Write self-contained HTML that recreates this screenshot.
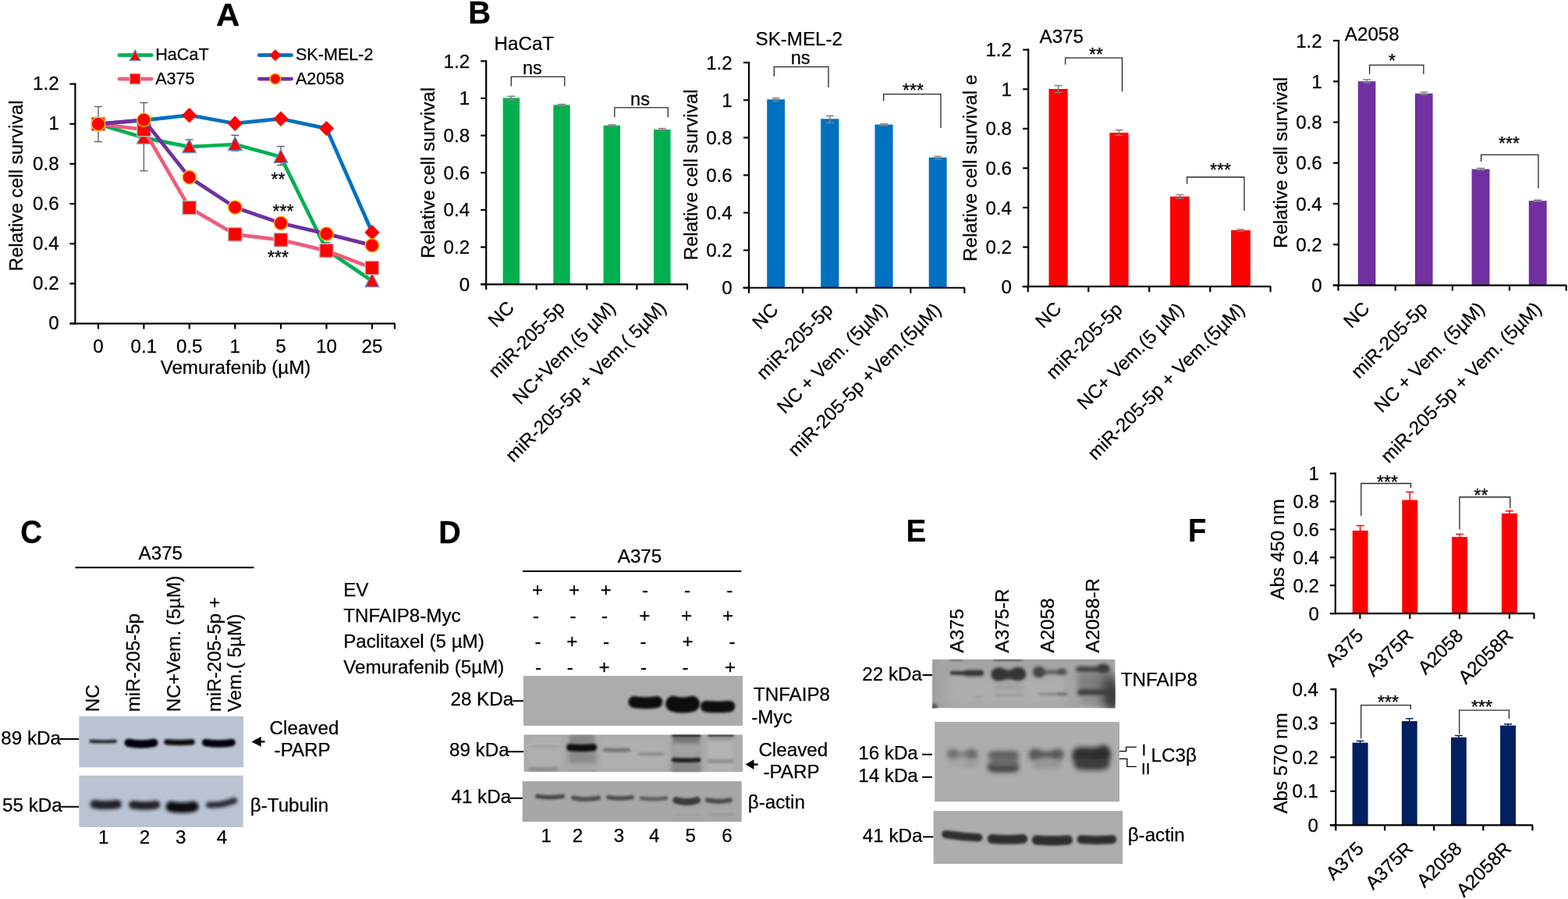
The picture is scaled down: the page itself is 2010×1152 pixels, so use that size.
<!DOCTYPE html>
<html lang="en"><head><meta charset="utf-8"><title>Figure</title>
<style>
html,body{margin:0;padding:0;background:#fff;}
body{width:2010px;height:1152px;overflow:hidden;}
svg{display:block;font-family:"Liberation Sans",Arial,sans-serif;}
svg text{stroke:#000;stroke-width:0.25px;}
</style></head><body>
<svg width="2010" height="1152" viewBox="0 0 2010 1152">
<defs>
<filter id="b1" filterUnits="userSpaceOnUse" x="0" y="830" width="2010" height="290"><feGaussianBlur stdDeviation="1.5"/></filter>
<filter id="b2" filterUnits="userSpaceOnUse" x="0" y="830" width="2010" height="290"><feGaussianBlur stdDeviation="2.3"/></filter>
<filter id="b3" filterUnits="userSpaceOnUse" x="0" y="830" width="2010" height="290"><feGaussianBlur stdDeviation="3.4"/></filter>
<filter id="b5" filterUnits="userSpaceOnUse" x="0" y="830" width="2010" height="290"><feGaussianBlur stdDeviation="7"/></filter>
</defs>
<rect width="2010" height="1152" fill="#fff"/>

<text font-size="41.28" font-weight="bold" stroke="none" transform="translate(276.95 33.20) scale(1.018 1)">A</text>
<text font-size="41.42" font-weight="bold" stroke="none" transform="translate(600.32 29.50) scale(0.966 1)">B</text>
<text font-size="42.23" font-weight="bold" stroke="none" transform="translate(26.32 696.38) scale(0.912 1)">C</text>
<text font-size="41.28" font-weight="bold" stroke="none" transform="translate(562.35 695.80) scale(0.956 1)">D</text>
<text font-size="41.42" font-weight="bold" stroke="none" transform="translate(1161.61 694.10) scale(0.934 1)">E</text>
<text font-size="41.72" font-weight="bold" stroke="none" transform="translate(1522.94 693.80) scale(0.917 1)">F</text>
<g id="panelA" transform="translate(0 0.6)">
<line x1="126.00" y1="136.00" x2="126.00" y2="181.00" stroke="#595959" stroke-width="1.3"/>
<line x1="121.00" y1="136.00" x2="131.00" y2="136.00" stroke="#595959" stroke-width="1.3"/>
<line x1="121.00" y1="181.00" x2="131.00" y2="181.00" stroke="#595959" stroke-width="1.3"/>
<line x1="184.40" y1="131.00" x2="184.40" y2="218.20" stroke="#595959" stroke-width="1.3"/>
<line x1="179.40" y1="131.00" x2="189.40" y2="131.00" stroke="#595959" stroke-width="1.3"/>
<line x1="179.40" y1="218.20" x2="189.40" y2="218.20" stroke="#595959" stroke-width="1.3"/>
<line x1="242.70" y1="178.40" x2="242.70" y2="195.00" stroke="#595959" stroke-width="1.3"/>
<line x1="237.70" y1="178.40" x2="247.70" y2="178.40" stroke="#595959" stroke-width="1.3"/>
<line x1="237.70" y1="195.00" x2="247.70" y2="195.00" stroke="#595959" stroke-width="1.3"/>
<line x1="301.30" y1="172.70" x2="301.30" y2="192.70" stroke="#595959" stroke-width="1.3"/>
<line x1="296.30" y1="172.70" x2="306.30" y2="172.70" stroke="#595959" stroke-width="1.3"/>
<line x1="296.30" y1="192.70" x2="306.30" y2="192.70" stroke="#595959" stroke-width="1.3"/>
<line x1="360.00" y1="187.00" x2="360.00" y2="211.00" stroke="#595959" stroke-width="1.3"/>
<line x1="355.00" y1="187.00" x2="365.00" y2="187.00" stroke="#595959" stroke-width="1.3"/>
<line x1="355.00" y1="211.00" x2="365.00" y2="211.00" stroke="#595959" stroke-width="1.3"/>
<line x1="418.50" y1="310.30" x2="418.50" y2="318.00" stroke="#595959" stroke-width="1.3"/>
<line x1="413.50" y1="310.30" x2="423.50" y2="310.30" stroke="#595959" stroke-width="1.3"/>
<line x1="413.50" y1="318.00" x2="423.50" y2="318.00" stroke="#595959" stroke-width="1.3"/>
<polyline points="126.0,158.3 184.4,176.0 242.7,187.5 301.3,184.4 360.0,200.5 418.5,319.6 477.0,359.4" fill="none" stroke="#00B050" stroke-width="4.7" stroke-linejoin="round" stroke-linecap="round"/>
<polygon points="126.00,148.61 134.84,165.90 117.16,165.90" fill="#FF0000" stroke="#5B9BD5" stroke-width="1.3" stroke-linejoin="miter"/>
<polygon points="184.40,166.31 193.24,183.60 175.56,183.60" fill="#FF0000" stroke="#5B9BD5" stroke-width="1.3" stroke-linejoin="miter"/>
<polygon points="242.70,177.81 251.53,195.10 233.86,195.10" fill="#FF0000" stroke="#5B9BD5" stroke-width="1.3" stroke-linejoin="miter"/>
<polygon points="301.30,174.71 310.13,192.00 292.47,192.00" fill="#FF0000" stroke="#5B9BD5" stroke-width="1.3" stroke-linejoin="miter"/>
<polygon points="360.00,190.81 368.83,208.10 351.17,208.10" fill="#FF0000" stroke="#5B9BD5" stroke-width="1.3" stroke-linejoin="miter"/>
<polygon points="418.50,309.91 427.33,327.20 409.67,327.20" fill="#FF0000" stroke="#5B9BD5" stroke-width="1.3" stroke-linejoin="miter"/>
<polygon points="477.00,349.71 485.83,367.00 468.17,367.00" fill="#FF0000" stroke="#5B9BD5" stroke-width="1.3" stroke-linejoin="miter"/>
<polyline points="126.0,158.3 184.4,153.6 242.7,147.1 301.3,157.6 360.0,151.6 418.5,164.0 477.0,297.1" fill="none" stroke="#0070C0" stroke-width="4.7" stroke-linejoin="round" stroke-linecap="round"/>
<polygon points="126.00,148.60 135.70,158.30 126.00,168.00 116.30,158.30" fill="#FF0000"/>
<polygon points="184.40,143.90 194.10,153.60 184.40,163.30 174.70,153.60" fill="#FF0000"/>
<polygon points="242.70,137.40 252.40,147.10 242.70,156.80 233.00,147.10" fill="#FF0000"/>
<polygon points="301.30,147.90 311.00,157.60 301.30,167.30 291.60,157.60" fill="#FF0000"/>
<polygon points="360.00,141.90 369.70,151.60 360.00,161.30 350.30,151.60" fill="#FF0000"/>
<polygon points="418.50,154.30 428.20,164.00 418.50,173.70 408.80,164.00" fill="#FF0000"/>
<polygon points="477.00,287.40 486.70,297.10 477.00,306.80 467.30,297.10" fill="#FF0000"/>
<polyline points="126.0,158.3 184.4,165.4 242.7,265.6 301.3,299.7 360.0,306.8 418.5,320.6 477.0,342.7" fill="none" stroke="#EE5C7C" stroke-width="4.7" stroke-linejoin="round" stroke-linecap="round"/>
<rect x="117.30" y="149.60" width="17.40" height="17.40" fill="#FF0000" stroke="#BFBFBF" stroke-width="1.3"/>
<rect x="175.70" y="156.70" width="17.40" height="17.40" fill="#FF0000" stroke="#BFBFBF" stroke-width="1.3"/>
<rect x="234.00" y="256.90" width="17.40" height="17.40" fill="#FF0000" stroke="#BFBFBF" stroke-width="1.3"/>
<rect x="292.60" y="291.00" width="17.40" height="17.40" fill="#FF0000" stroke="#BFBFBF" stroke-width="1.3"/>
<rect x="351.30" y="298.10" width="17.40" height="17.40" fill="#FF0000" stroke="#BFBFBF" stroke-width="1.3"/>
<rect x="409.80" y="311.90" width="17.40" height="17.40" fill="#FF0000" stroke="#BFBFBF" stroke-width="1.3"/>
<rect x="468.30" y="334.00" width="17.40" height="17.40" fill="#FF0000" stroke="#BFBFBF" stroke-width="1.3"/>
<polyline points="126.0,158.3 184.4,153.1 242.7,226.6 301.3,265.1 360.0,285.4 418.5,299.0 477.0,313.8" fill="none" stroke="#7030A0" stroke-width="4.7" stroke-linejoin="round" stroke-linecap="round"/>
<circle cx="126.00" cy="158.30" r="8.70" fill="#FF0000" stroke="#FFC000" stroke-width="1.4"/>
<circle cx="184.40" cy="153.10" r="8.70" fill="#FF0000" stroke="#FFC000" stroke-width="1.4"/>
<circle cx="242.70" cy="226.60" r="8.70" fill="#FF0000" stroke="#FFC000" stroke-width="1.4"/>
<circle cx="301.30" cy="265.10" r="8.70" fill="#FF0000" stroke="#FFC000" stroke-width="1.4"/>
<circle cx="360.00" cy="285.40" r="8.70" fill="#FF0000" stroke="#FFC000" stroke-width="1.4"/>
<circle cx="418.50" cy="299.00" r="8.70" fill="#FF0000" stroke="#FFC000" stroke-width="1.4"/>
<circle cx="477.00" cy="313.80" r="8.70" fill="#FF0000" stroke="#FFC000" stroke-width="1.4"/>
<line x1="96.40" y1="105.90" x2="96.40" y2="415.10" stroke="#000" stroke-width="2.2"/>
<line x1="90.00" y1="414.00" x2="506.50" y2="414.00" stroke="#000" stroke-width="2.2"/>
<line x1="89.40" y1="414.00" x2="96.40" y2="414.00" stroke="#000" stroke-width="2.2"/>
<text x="75.60" y="421.70" font-size="24.2" text-anchor="end">0</text>
<line x1="89.40" y1="362.83" x2="96.40" y2="362.83" stroke="#000" stroke-width="2.2"/>
<text x="75.60" y="370.53" font-size="24.2" text-anchor="end">0.2</text>
<line x1="89.40" y1="311.67" x2="96.40" y2="311.67" stroke="#000" stroke-width="2.2"/>
<text x="75.60" y="319.37" font-size="24.2" text-anchor="end">0.4</text>
<line x1="89.40" y1="260.50" x2="96.40" y2="260.50" stroke="#000" stroke-width="2.2"/>
<text x="75.60" y="268.20" font-size="24.2" text-anchor="end">0.6</text>
<line x1="89.40" y1="209.33" x2="96.40" y2="209.33" stroke="#000" stroke-width="2.2"/>
<text x="75.60" y="217.03" font-size="24.2" text-anchor="end">0.8</text>
<line x1="89.40" y1="158.17" x2="96.40" y2="158.17" stroke="#000" stroke-width="2.2"/>
<text x="75.60" y="165.87" font-size="24.2" text-anchor="end">1</text>
<line x1="89.40" y1="107.00" x2="96.40" y2="107.00" stroke="#000" stroke-width="2.2"/>
<text x="75.60" y="114.70" font-size="24.2" text-anchor="end">1.2</text>
<line x1="126.00" y1="414.00" x2="126.00" y2="421.00" stroke="#000" stroke-width="2.2"/>
<line x1="184.40" y1="414.00" x2="184.40" y2="421.00" stroke="#000" stroke-width="2.2"/>
<line x1="242.70" y1="414.00" x2="242.70" y2="421.00" stroke="#000" stroke-width="2.2"/>
<line x1="301.30" y1="414.00" x2="301.30" y2="421.00" stroke="#000" stroke-width="2.2"/>
<line x1="360.00" y1="414.00" x2="360.00" y2="421.00" stroke="#000" stroke-width="2.2"/>
<line x1="418.50" y1="414.00" x2="418.50" y2="421.00" stroke="#000" stroke-width="2.2"/>
<line x1="477.00" y1="414.00" x2="477.00" y2="421.00" stroke="#000" stroke-width="2.2"/>
<line x1="506.00" y1="414.00" x2="506.00" y2="421.00" stroke="#000" stroke-width="2.2"/>
<text x="126.00" y="451.00" font-size="24.2" text-anchor="middle">0</text>
<text x="184.40" y="451.00" font-size="24.2" text-anchor="middle">0.1</text>
<text x="242.70" y="451.00" font-size="24.2" text-anchor="middle">0.5</text>
<text x="301.30" y="451.00" font-size="24.2" text-anchor="middle">1</text>
<text x="360.00" y="451.00" font-size="24.2" text-anchor="middle">5</text>
<text x="418.50" y="451.00" font-size="24.2" text-anchor="middle">10</text>
<text x="477.00" y="451.00" font-size="24.2" text-anchor="middle">25</text>
<text x="302.00" y="478.40" font-size="24.2" text-anchor="middle">Vemurafenib (µM)</text>
<text font-size="24.2" text-anchor="middle" transform="translate(29.40 237.40) rotate(-90)">Relative cell survival</text>
<line x1="153.00" y1="70.10" x2="194.30" y2="70.10" stroke="#00B050" stroke-width="4.7" stroke-linecap="round"/>
<polygon points="173.20,63.44 180.09,76.93 166.31,76.93" fill="#FF0000" stroke="#5B9BD5" stroke-width="1.3" stroke-linejoin="miter"/>
<text x="199.20" y="76.80" font-size="21.6">HaCaT</text>
<line x1="332.30" y1="70.10" x2="373.60" y2="70.10" stroke="#0070C0" stroke-width="4.7" stroke-linecap="round"/>
<polygon points="352.90,62.53 360.47,70.10 352.90,77.67 345.33,70.10" fill="#FF0000"/>
<text x="378.90" y="76.80" font-size="21.6">SK-MEL-2</text>
<line x1="153.00" y1="100.50" x2="194.30" y2="100.50" stroke="#EE5C7C" stroke-width="4.7" stroke-linecap="round"/>
<rect x="166.41" y="93.71" width="13.57" height="13.57" fill="#FF0000" stroke="#BFBFBF" stroke-width="1.3"/>
<text x="199.20" y="107.30" font-size="21.6">A375</text>
<line x1="332.30" y1="100.50" x2="373.60" y2="100.50" stroke="#7030A0" stroke-width="4.7" stroke-linecap="round"/>
<circle cx="352.90" cy="100.50" r="6.79" fill="#FF0000" stroke="#FFC000" stroke-width="1.4"/>
<text x="378.90" y="107.30" font-size="21.6">A2058</text>
<text x="347.50" y="237.30" font-size="23">**</text>
<text x="349.50" y="278.50" font-size="23">***</text>
<text x="343.00" y="337.00" font-size="23">***</text>
</g>
<g id="panelB">
<rect x="644.70" y="125.50" width="21.40" height="238.80" fill="#00B050"/>
<rect x="709.30" y="134.40" width="21.40" height="229.90" fill="#00B050"/>
<rect x="773.60" y="160.70" width="21.40" height="203.60" fill="#00B050"/>
<rect x="838.00" y="165.90" width="21.60" height="198.40" fill="#00B050"/>
<line x1="655.40" y1="123.40" x2="655.40" y2="128.10" stroke="#7f7f7f" stroke-width="1.5"/>
<line x1="650.40" y1="123.40" x2="660.40" y2="123.40" stroke="#7f7f7f" stroke-width="1.5"/>
<line x1="650.40" y1="128.10" x2="660.40" y2="128.10" stroke="#7f7f7f" stroke-width="1.5"/>
<line x1="720.00" y1="133.60" x2="720.00" y2="135.70" stroke="#7f7f7f" stroke-width="1.5"/>
<line x1="715.00" y1="133.60" x2="725.00" y2="133.60" stroke="#7f7f7f" stroke-width="1.5"/>
<line x1="715.00" y1="135.70" x2="725.00" y2="135.70" stroke="#7f7f7f" stroke-width="1.5"/>
<line x1="784.30" y1="159.90" x2="784.30" y2="161.50" stroke="#7f7f7f" stroke-width="1.5"/>
<line x1="779.30" y1="159.90" x2="789.30" y2="159.90" stroke="#7f7f7f" stroke-width="1.5"/>
<line x1="779.30" y1="161.50" x2="789.30" y2="161.50" stroke="#7f7f7f" stroke-width="1.5"/>
<line x1="848.80" y1="164.60" x2="848.80" y2="167.70" stroke="#7f7f7f" stroke-width="1.5"/>
<line x1="843.80" y1="164.60" x2="853.80" y2="164.60" stroke="#7f7f7f" stroke-width="1.5"/>
<line x1="843.80" y1="167.70" x2="853.80" y2="167.70" stroke="#7f7f7f" stroke-width="1.5"/>
<line x1="623.20" y1="77.20" x2="623.20" y2="365.40" stroke="#000" stroke-width="2.2"/>
<line x1="616.20" y1="364.30" x2="881.50" y2="364.30" stroke="#000" stroke-width="2.2"/>
<line x1="616.20" y1="364.30" x2="623.20" y2="364.30" stroke="#000" stroke-width="2.2"/>
<text x="602.20" y="372.82" font-size="24.2" text-anchor="end">0</text>
<line x1="616.20" y1="316.63" x2="623.20" y2="316.63" stroke="#000" stroke-width="2.2"/>
<text x="602.20" y="325.15" font-size="24.2" text-anchor="end">0.2</text>
<line x1="616.20" y1="268.97" x2="623.20" y2="268.97" stroke="#000" stroke-width="2.2"/>
<text x="602.20" y="277.49" font-size="24.2" text-anchor="end">0.4</text>
<line x1="616.20" y1="221.30" x2="623.20" y2="221.30" stroke="#000" stroke-width="2.2"/>
<text x="602.20" y="229.82" font-size="24.2" text-anchor="end">0.6</text>
<line x1="616.20" y1="173.63" x2="623.20" y2="173.63" stroke="#000" stroke-width="2.2"/>
<text x="602.20" y="182.15" font-size="24.2" text-anchor="end">0.8</text>
<line x1="616.20" y1="125.97" x2="623.20" y2="125.97" stroke="#000" stroke-width="2.2"/>
<text x="602.20" y="134.49" font-size="24.2" text-anchor="end">1</text>
<line x1="616.20" y1="78.30" x2="623.20" y2="78.30" stroke="#000" stroke-width="2.2"/>
<text x="602.20" y="86.82" font-size="24.2" text-anchor="end">1.2</text>
<line x1="623.20" y1="364.30" x2="623.20" y2="371.30" stroke="#000" stroke-width="2.2"/>
<line x1="687.70" y1="364.30" x2="687.70" y2="371.30" stroke="#000" stroke-width="2.2"/>
<line x1="752.30" y1="364.30" x2="752.30" y2="371.30" stroke="#000" stroke-width="2.2"/>
<line x1="816.40" y1="364.30" x2="816.40" y2="371.30" stroke="#000" stroke-width="2.2"/>
<line x1="881.00" y1="364.30" x2="881.00" y2="371.30" stroke="#000" stroke-width="2.2"/>
<text font-size="24.2" text-anchor="middle" transform="translate(557.00 221.50) rotate(-90)">Relative cell survival</text>
<text font-size="24.2" text-anchor="end" transform="translate(660.50 396.00) rotate(-45)">NC</text>
<text font-size="24.2" text-anchor="end" transform="translate(725.50 396.00) rotate(-45)">miR-205-5p</text>
<text font-size="24.2" text-anchor="end" transform="translate(790.50 396.00) rotate(-45)">NC+Vem.(5 µM)</text>
<text font-size="24.2" text-anchor="end" transform="translate(855.50 396.00) rotate(-45)">miR-205-5p + Vem.( 5µM)</text>
<text x="633.50" y="64.20" font-size="24.2">HaCaT</text>
<polyline points="655.30,110.40 655.30,98.30 723.80,98.30 723.80,110.40" fill="none" stroke="#262626" stroke-width="1.3"/>
<text x="682.30" y="94.80" font-size="23.5" text-anchor="middle">ns</text>
<polyline points="787.80,150.00 787.80,137.80 856.30,137.80 856.30,150.00" fill="none" stroke="#262626" stroke-width="1.3"/>
<text x="820.50" y="134.50" font-size="23.5" text-anchor="middle">ns</text>
<rect x="983.20" y="127.30" width="22.90" height="241.45" fill="#0070C0"/>
<rect x="1052.20" y="152.30" width="23.20" height="216.45" fill="#0070C0"/>
<rect x="1121.50" y="159.60" width="23.10" height="209.15" fill="#0070C0"/>
<rect x="1190.70" y="201.80" width="22.90" height="166.95" fill="#0070C0"/>
<line x1="994.60" y1="125.60" x2="994.60" y2="130.00" stroke="#7f7f7f" stroke-width="1.5"/>
<line x1="989.60" y1="125.60" x2="999.60" y2="125.60" stroke="#7f7f7f" stroke-width="1.5"/>
<line x1="989.60" y1="130.00" x2="999.60" y2="130.00" stroke="#7f7f7f" stroke-width="1.5"/>
<line x1="1063.80" y1="148.50" x2="1063.80" y2="157.50" stroke="#7f7f7f" stroke-width="1.5"/>
<line x1="1058.80" y1="148.50" x2="1068.80" y2="148.50" stroke="#7f7f7f" stroke-width="1.5"/>
<line x1="1058.80" y1="157.50" x2="1068.80" y2="157.50" stroke="#7f7f7f" stroke-width="1.5"/>
<line x1="1133.00" y1="158.80" x2="1133.00" y2="160.90" stroke="#7f7f7f" stroke-width="1.5"/>
<line x1="1128.00" y1="158.80" x2="1138.00" y2="158.80" stroke="#7f7f7f" stroke-width="1.5"/>
<line x1="1128.00" y1="160.90" x2="1138.00" y2="160.90" stroke="#7f7f7f" stroke-width="1.5"/>
<line x1="1202.10" y1="200.40" x2="1202.10" y2="204.20" stroke="#7f7f7f" stroke-width="1.5"/>
<line x1="1197.10" y1="200.40" x2="1207.10" y2="200.40" stroke="#7f7f7f" stroke-width="1.5"/>
<line x1="1197.10" y1="204.20" x2="1207.10" y2="204.20" stroke="#7f7f7f" stroke-width="1.5"/>
<line x1="960.00" y1="79.10" x2="960.00" y2="369.85" stroke="#000" stroke-width="2.2"/>
<line x1="952.40" y1="368.75" x2="1236.80" y2="368.75" stroke="#000" stroke-width="2.2"/>
<line x1="953.00" y1="368.75" x2="960.00" y2="368.75" stroke="#000" stroke-width="2.2"/>
<text x="938.80" y="377.27" font-size="24.2" text-anchor="end">0</text>
<line x1="953.00" y1="320.66" x2="960.00" y2="320.66" stroke="#000" stroke-width="2.2"/>
<text x="938.80" y="329.18" font-size="24.2" text-anchor="end">0.2</text>
<line x1="953.00" y1="272.57" x2="960.00" y2="272.57" stroke="#000" stroke-width="2.2"/>
<text x="938.80" y="281.09" font-size="24.2" text-anchor="end">0.4</text>
<line x1="953.00" y1="224.47" x2="960.00" y2="224.47" stroke="#000" stroke-width="2.2"/>
<text x="938.80" y="233.00" font-size="24.2" text-anchor="end">0.6</text>
<line x1="953.00" y1="176.38" x2="960.00" y2="176.38" stroke="#000" stroke-width="2.2"/>
<text x="938.80" y="184.90" font-size="24.2" text-anchor="end">0.8</text>
<line x1="953.00" y1="128.29" x2="960.00" y2="128.29" stroke="#000" stroke-width="2.2"/>
<text x="938.80" y="136.81" font-size="24.2" text-anchor="end">1</text>
<line x1="953.00" y1="80.20" x2="960.00" y2="80.20" stroke="#000" stroke-width="2.2"/>
<text x="938.80" y="88.72" font-size="24.2" text-anchor="end">1.2</text>
<line x1="960.00" y1="368.75" x2="960.00" y2="375.75" stroke="#000" stroke-width="2.2"/>
<line x1="1029.00" y1="368.75" x2="1029.00" y2="375.75" stroke="#000" stroke-width="2.2"/>
<line x1="1098.00" y1="368.75" x2="1098.00" y2="375.75" stroke="#000" stroke-width="2.2"/>
<line x1="1167.30" y1="368.75" x2="1167.30" y2="375.75" stroke="#000" stroke-width="2.2"/>
<line x1="1236.30" y1="368.75" x2="1236.30" y2="375.75" stroke="#000" stroke-width="2.2"/>
<text font-size="24.2" text-anchor="middle" transform="translate(893.60 224.00) rotate(-90)">Relative cell survival</text>
<text font-size="24.2" text-anchor="end" transform="translate(999.00 398.50) rotate(-45)">NC</text>
<text font-size="24.2" text-anchor="end" transform="translate(1069.00 398.50) rotate(-45)">miR-205-5p</text>
<text font-size="24.2" text-anchor="end" transform="translate(1139.00 398.30) rotate(-45)">NC + Vem. (5µM)</text>
<text font-size="24.2" text-anchor="end" transform="translate(1208.00 398.30) rotate(-45)">miR-205-5p +Vem.(5µM)</text>
<text x="968.50" y="58.00" font-size="24.2">SK-MEL-2</text>
<polyline points="992.30,98.00 992.30,85.70 1062.00,85.70 1062.00,112.00" fill="none" stroke="#262626" stroke-width="1.3"/>
<text x="1026.20" y="82.30" font-size="23.5" text-anchor="middle">ns</text>
<polyline points="1132.70,129.50 1132.70,120.60 1206.00,120.60 1206.00,164.00" fill="none" stroke="#262626" stroke-width="1.3"/>
<text x="1157.00" y="123.60" font-size="23">***</text>
<rect x="1344.50" y="114.00" width="24.25" height="253.20" fill="#FF0000"/>
<rect x="1422.40" y="170.00" width="24.20" height="197.20" fill="#FF0000"/>
<rect x="1500.00" y="251.80" width="24.70" height="115.40" fill="#FF0000"/>
<rect x="1578.10" y="295.00" width="24.80" height="72.20" fill="#FF0000"/>
<line x1="1356.60" y1="109.60" x2="1356.60" y2="118.50" stroke="#7f7f7f" stroke-width="1.5"/>
<line x1="1351.60" y1="109.60" x2="1361.60" y2="109.60" stroke="#7f7f7f" stroke-width="1.5"/>
<line x1="1351.60" y1="118.50" x2="1361.60" y2="118.50" stroke="#7f7f7f" stroke-width="1.5"/>
<line x1="1434.50" y1="166.70" x2="1434.50" y2="173.40" stroke="#7f7f7f" stroke-width="1.5"/>
<line x1="1429.50" y1="166.70" x2="1439.50" y2="166.70" stroke="#7f7f7f" stroke-width="1.5"/>
<line x1="1429.50" y1="173.40" x2="1439.50" y2="173.40" stroke="#7f7f7f" stroke-width="1.5"/>
<line x1="1512.30" y1="249.50" x2="1512.30" y2="254.30" stroke="#7f7f7f" stroke-width="1.5"/>
<line x1="1507.30" y1="249.50" x2="1517.30" y2="249.50" stroke="#7f7f7f" stroke-width="1.5"/>
<line x1="1507.30" y1="254.30" x2="1517.30" y2="254.30" stroke="#7f7f7f" stroke-width="1.5"/>
<line x1="1590.50" y1="294.00" x2="1590.50" y2="296.40" stroke="#7f7f7f" stroke-width="1.5"/>
<line x1="1585.50" y1="294.00" x2="1595.50" y2="294.00" stroke="#7f7f7f" stroke-width="1.5"/>
<line x1="1585.50" y1="296.40" x2="1595.50" y2="296.40" stroke="#7f7f7f" stroke-width="1.5"/>
<line x1="1318.20" y1="62.60" x2="1318.20" y2="368.30" stroke="#000" stroke-width="2.2"/>
<line x1="1310.70" y1="367.20" x2="1629.20" y2="367.20" stroke="#000" stroke-width="2.2"/>
<line x1="1311.20" y1="367.20" x2="1318.20" y2="367.20" stroke="#000" stroke-width="2.2"/>
<text x="1297.00" y="375.72" font-size="24.2" text-anchor="end">0</text>
<line x1="1311.20" y1="316.62" x2="1318.20" y2="316.62" stroke="#000" stroke-width="2.2"/>
<text x="1297.00" y="325.14" font-size="24.2" text-anchor="end">0.2</text>
<line x1="1311.20" y1="266.03" x2="1318.20" y2="266.03" stroke="#000" stroke-width="2.2"/>
<text x="1297.00" y="274.55" font-size="24.2" text-anchor="end">0.4</text>
<line x1="1311.20" y1="215.45" x2="1318.20" y2="215.45" stroke="#000" stroke-width="2.2"/>
<text x="1297.00" y="223.97" font-size="24.2" text-anchor="end">0.6</text>
<line x1="1311.20" y1="164.87" x2="1318.20" y2="164.87" stroke="#000" stroke-width="2.2"/>
<text x="1297.00" y="173.39" font-size="24.2" text-anchor="end">0.8</text>
<line x1="1311.20" y1="114.28" x2="1318.20" y2="114.28" stroke="#000" stroke-width="2.2"/>
<text x="1297.00" y="122.80" font-size="24.2" text-anchor="end">1</text>
<line x1="1311.20" y1="63.70" x2="1318.20" y2="63.70" stroke="#000" stroke-width="2.2"/>
<text x="1297.00" y="72.22" font-size="24.2" text-anchor="end">1.2</text>
<line x1="1317.70" y1="367.20" x2="1317.70" y2="374.20" stroke="#000" stroke-width="2.2"/>
<line x1="1395.30" y1="367.20" x2="1395.30" y2="374.20" stroke="#000" stroke-width="2.2"/>
<line x1="1473.20" y1="367.20" x2="1473.20" y2="374.20" stroke="#000" stroke-width="2.2"/>
<line x1="1551.30" y1="367.20" x2="1551.30" y2="374.20" stroke="#000" stroke-width="2.2"/>
<line x1="1628.60" y1="367.20" x2="1628.60" y2="374.20" stroke="#000" stroke-width="2.2"/>
<text font-size="24.2" text-anchor="middle" transform="translate(1251.60 215.30) rotate(-90)">Relative cell survival e</text>
<text font-size="24.2" text-anchor="end" transform="translate(1362.00 397.00) rotate(-45)">NC</text>
<text font-size="24.2" text-anchor="end" transform="translate(1440.30 398.00) rotate(-45)">miR-205-5p</text>
<text font-size="24.2" text-anchor="end" transform="translate(1519.00 398.00) rotate(-45)">NC+ Vem.(5 µM)</text>
<text font-size="24.2" text-anchor="end" transform="translate(1597.00 398.00) rotate(-45)">miR-205-5p + Vem.(5µM)</text>
<text x="1332.50" y="55.20" font-size="24.2">A375</text>
<polyline points="1365.60,82.80 1365.60,74.20 1438.50,74.20 1438.50,117.20" fill="none" stroke="#262626" stroke-width="1.3"/>
<text x="1396.00" y="77.50" font-size="23">**</text>
<polyline points="1521.60,235.70 1521.60,227.00 1595.00,227.00 1595.00,270.00" fill="none" stroke="#262626" stroke-width="1.3"/>
<text x="1551.00" y="226.30" font-size="23">***</text>
<rect x="1740.80" y="104.20" width="22.60" height="261.40" fill="#7030A0"/>
<rect x="1814.00" y="119.80" width="22.60" height="245.80" fill="#7030A0"/>
<rect x="1886.60" y="216.70" width="22.90" height="148.90" fill="#7030A0"/>
<rect x="1959.80" y="257.30" width="22.90" height="108.30" fill="#7030A0"/>
<line x1="1752.10" y1="102.00" x2="1752.10" y2="106.30" stroke="#7f7f7f" stroke-width="1.5"/>
<line x1="1747.10" y1="102.00" x2="1757.10" y2="102.00" stroke="#7f7f7f" stroke-width="1.5"/>
<line x1="1747.10" y1="106.30" x2="1757.10" y2="106.30" stroke="#7f7f7f" stroke-width="1.5"/>
<line x1="1825.30" y1="118.00" x2="1825.30" y2="121.40" stroke="#7f7f7f" stroke-width="1.5"/>
<line x1="1820.30" y1="118.00" x2="1830.30" y2="118.00" stroke="#7f7f7f" stroke-width="1.5"/>
<line x1="1820.30" y1="121.40" x2="1830.30" y2="121.40" stroke="#7f7f7f" stroke-width="1.5"/>
<line x1="1898.00" y1="215.60" x2="1898.00" y2="217.70" stroke="#7f7f7f" stroke-width="1.5"/>
<line x1="1893.00" y1="215.60" x2="1903.00" y2="215.60" stroke="#7f7f7f" stroke-width="1.5"/>
<line x1="1893.00" y1="217.70" x2="1903.00" y2="217.70" stroke="#7f7f7f" stroke-width="1.5"/>
<line x1="1971.20" y1="256.30" x2="1971.20" y2="258.30" stroke="#7f7f7f" stroke-width="1.5"/>
<line x1="1966.20" y1="256.30" x2="1976.20" y2="256.30" stroke="#7f7f7f" stroke-width="1.5"/>
<line x1="1966.20" y1="258.30" x2="1976.20" y2="258.30" stroke="#7f7f7f" stroke-width="1.5"/>
<line x1="1716.00" y1="51.00" x2="1716.00" y2="366.70" stroke="#000" stroke-width="2.2"/>
<line x1="1708.75" y1="365.60" x2="2008.20" y2="365.60" stroke="#000" stroke-width="2.2"/>
<line x1="1709.00" y1="365.60" x2="1716.00" y2="365.60" stroke="#000" stroke-width="2.2"/>
<text x="1694.80" y="374.12" font-size="24.2" text-anchor="end">0</text>
<line x1="1709.00" y1="313.35" x2="1716.00" y2="313.35" stroke="#000" stroke-width="2.2"/>
<text x="1694.80" y="321.87" font-size="24.2" text-anchor="end">0.2</text>
<line x1="1709.00" y1="261.10" x2="1716.00" y2="261.10" stroke="#000" stroke-width="2.2"/>
<text x="1694.80" y="269.62" font-size="24.2" text-anchor="end">0.4</text>
<line x1="1709.00" y1="208.85" x2="1716.00" y2="208.85" stroke="#000" stroke-width="2.2"/>
<text x="1694.80" y="217.37" font-size="24.2" text-anchor="end">0.6</text>
<line x1="1709.00" y1="156.60" x2="1716.00" y2="156.60" stroke="#000" stroke-width="2.2"/>
<text x="1694.80" y="165.12" font-size="24.2" text-anchor="end">0.8</text>
<line x1="1709.00" y1="104.35" x2="1716.00" y2="104.35" stroke="#000" stroke-width="2.2"/>
<text x="1694.80" y="112.87" font-size="24.2" text-anchor="end">1</text>
<line x1="1709.00" y1="52.10" x2="1716.00" y2="52.10" stroke="#000" stroke-width="2.2"/>
<text x="1694.80" y="60.62" font-size="24.2" text-anchor="end">1.2</text>
<line x1="1715.50" y1="365.60" x2="1715.50" y2="372.60" stroke="#000" stroke-width="2.2"/>
<line x1="1788.70" y1="365.60" x2="1788.70" y2="372.60" stroke="#000" stroke-width="2.2"/>
<line x1="1861.90" y1="365.60" x2="1861.90" y2="372.60" stroke="#000" stroke-width="2.2"/>
<line x1="1935.00" y1="365.60" x2="1935.00" y2="372.60" stroke="#000" stroke-width="2.2"/>
<line x1="2007.70" y1="365.60" x2="2007.70" y2="372.60" stroke="#000" stroke-width="2.2"/>
<text font-size="24.2" text-anchor="middle" transform="translate(1650.00 208.50) rotate(-90)">Relative cell survival</text>
<text font-size="24.2" text-anchor="end" transform="translate(1757.00 397.00) rotate(-45)">NC</text>
<text font-size="24.2" text-anchor="end" transform="translate(1831.30 397.00) rotate(-45)">miR-205-5p</text>
<text font-size="24.2" text-anchor="end" transform="translate(1904.50 397.00) rotate(-45)">NC + Vem. (5µM)</text>
<text font-size="24.2" text-anchor="end" transform="translate(1977.50 397.00) rotate(-45)">miR-205-5p + Vem. (5µM)</text>
<text x="1723.80" y="52.00" font-size="24.2">A2058</text>
<polyline points="1755.60,95.00 1755.60,83.30 1824.90,83.30 1824.90,95.00" fill="none" stroke="#262626" stroke-width="1.3"/>
<text x="1780.00" y="85.50" font-size="23">*</text>
<polyline points="1898.60,207.00 1898.60,198.40 1972.00,198.40 1972.00,241.40" fill="none" stroke="#262626" stroke-width="1.3"/>
<text x="1921.00" y="191.70" font-size="23">***</text>
</g>
<g id="panelF">
<rect x="1733.70" y="679.90" width="19.90" height="106.20" fill="#FF0000"/>
<rect x="1797.30" y="640.75" width="20.00" height="145.35" fill="#FF0000"/>
<rect x="1861.20" y="688.10" width="20.00" height="98.00" fill="#FF0000"/>
<rect x="1924.90" y="657.80" width="19.90" height="128.30" fill="#FF0000"/>
<line x1="1743.60" y1="673.60" x2="1743.60" y2="680.00" stroke="#FF0000" stroke-width="1.5"/>
<line x1="1738.60" y1="673.60" x2="1748.60" y2="673.60" stroke="#FF0000" stroke-width="1.5"/>
<line x1="1807.30" y1="630.50" x2="1807.30" y2="641.00" stroke="#FF0000" stroke-width="1.5"/>
<line x1="1802.30" y1="630.50" x2="1812.30" y2="630.50" stroke="#FF0000" stroke-width="1.5"/>
<line x1="1871.20" y1="684.50" x2="1871.20" y2="688.50" stroke="#FF0000" stroke-width="1.5"/>
<line x1="1866.20" y1="684.50" x2="1876.20" y2="684.50" stroke="#FF0000" stroke-width="1.5"/>
<line x1="1934.90" y1="654.80" x2="1934.90" y2="658.00" stroke="#FF0000" stroke-width="1.5"/>
<line x1="1929.90" y1="654.80" x2="1939.90" y2="654.80" stroke="#FF0000" stroke-width="1.5"/>
<line x1="1711.80" y1="605.60" x2="1711.80" y2="787.20" stroke="#000" stroke-width="2.2"/>
<line x1="1705.00" y1="786.10" x2="1967.00" y2="786.10" stroke="#000" stroke-width="2.2"/>
<line x1="1704.80" y1="786.10" x2="1711.80" y2="786.10" stroke="#000" stroke-width="2.2"/>
<text x="1691.00" y="794.62" font-size="24.2" text-anchor="end">0</text>
<line x1="1704.80" y1="750.22" x2="1711.80" y2="750.22" stroke="#000" stroke-width="2.2"/>
<text x="1691.00" y="758.74" font-size="24.2" text-anchor="end">0.2</text>
<line x1="1704.80" y1="714.34" x2="1711.80" y2="714.34" stroke="#000" stroke-width="2.2"/>
<text x="1691.00" y="722.86" font-size="24.2" text-anchor="end">0.4</text>
<line x1="1704.80" y1="678.46" x2="1711.80" y2="678.46" stroke="#000" stroke-width="2.2"/>
<text x="1691.00" y="686.98" font-size="24.2" text-anchor="end">0.6</text>
<line x1="1704.80" y1="642.58" x2="1711.80" y2="642.58" stroke="#000" stroke-width="2.2"/>
<text x="1691.00" y="651.10" font-size="24.2" text-anchor="end">0.8</text>
<line x1="1704.80" y1="606.70" x2="1711.80" y2="606.70" stroke="#000" stroke-width="2.2"/>
<text x="1691.00" y="615.22" font-size="24.2" text-anchor="end">1</text>
<line x1="1743.40" y1="786.10" x2="1743.40" y2="793.10" stroke="#000" stroke-width="2.2"/>
<line x1="1807.30" y1="786.10" x2="1807.30" y2="793.10" stroke="#000" stroke-width="2.2"/>
<line x1="1871.00" y1="786.10" x2="1871.00" y2="793.10" stroke="#000" stroke-width="2.2"/>
<line x1="1934.90" y1="786.10" x2="1934.90" y2="793.10" stroke="#000" stroke-width="2.2"/>
<line x1="1966.50" y1="786.10" x2="1966.50" y2="793.10" stroke="#000" stroke-width="2.2"/>
<text font-size="24.2" text-anchor="middle" transform="translate(1646.00 704.00) rotate(-90)">Abs 450 nm</text>
<text font-size="24.2" text-anchor="end" transform="translate(1749.00 816.00) rotate(-45)">A375</text>
<text font-size="24.2" text-anchor="end" transform="translate(1813.00 816.00) rotate(-45)">A375R</text>
<text font-size="24.2" text-anchor="end" transform="translate(1877.00 816.00) rotate(-45)">A2058</text>
<text font-size="24.2" text-anchor="end" transform="translate(1941.00 816.00) rotate(-45)">A2058R</text>
<polyline points="1744.80,661.00 1744.80,619.50 1808.50,619.50 1808.50,624.90" fill="none" stroke="#262626" stroke-width="1.3"/>
<text x="1765.00" y="625.80" font-size="23">***</text>
<polyline points="1871.00,678.40 1871.00,637.00 1935.80,637.00 1935.80,651.30" fill="none" stroke="#262626" stroke-width="1.3"/>
<text x="1889.50" y="643.20" font-size="23">**</text>
<rect x="1733.60" y="951.70" width="20.00" height="105.70" fill="#002060"/>
<rect x="1796.90" y="924.10" width="19.80" height="133.30" fill="#002060"/>
<rect x="1860.00" y="944.90" width="19.80" height="112.50" fill="#002060"/>
<rect x="1923.10" y="929.70" width="20.00" height="127.70" fill="#002060"/>
<line x1="1743.60" y1="949.50" x2="1743.60" y2="952.00" stroke="#002060" stroke-width="1.5"/>
<line x1="1738.60" y1="949.50" x2="1748.60" y2="949.50" stroke="#002060" stroke-width="1.5"/>
<line x1="1806.80" y1="920.80" x2="1806.80" y2="925.00" stroke="#002060" stroke-width="1.5"/>
<line x1="1801.80" y1="920.80" x2="1811.80" y2="920.80" stroke="#002060" stroke-width="1.5"/>
<line x1="1869.90" y1="942.60" x2="1869.90" y2="945.00" stroke="#002060" stroke-width="1.5"/>
<line x1="1864.90" y1="942.60" x2="1874.90" y2="942.60" stroke="#002060" stroke-width="1.5"/>
<line x1="1933.10" y1="927.90" x2="1933.10" y2="930.00" stroke="#002060" stroke-width="1.5"/>
<line x1="1928.10" y1="927.90" x2="1938.10" y2="927.90" stroke="#002060" stroke-width="1.5"/>
<line x1="1712.30" y1="882.20" x2="1712.30" y2="1058.50" stroke="#000" stroke-width="2.2"/>
<line x1="1704.70" y1="1057.40" x2="1965.00" y2="1057.40" stroke="#000" stroke-width="2.2"/>
<line x1="1705.30" y1="1057.40" x2="1712.30" y2="1057.40" stroke="#000" stroke-width="2.2"/>
<text x="1690.00" y="1065.92" font-size="24.2" text-anchor="end">0</text>
<line x1="1705.30" y1="1013.88" x2="1712.30" y2="1013.88" stroke="#000" stroke-width="2.2"/>
<text x="1690.00" y="1022.39" font-size="24.2" text-anchor="end">0.1</text>
<line x1="1705.30" y1="970.35" x2="1712.30" y2="970.35" stroke="#000" stroke-width="2.2"/>
<text x="1690.00" y="978.87" font-size="24.2" text-anchor="end">0.2</text>
<line x1="1705.30" y1="926.83" x2="1712.30" y2="926.83" stroke="#000" stroke-width="2.2"/>
<text x="1690.00" y="935.35" font-size="24.2" text-anchor="end">0.3</text>
<line x1="1705.30" y1="883.30" x2="1712.30" y2="883.30" stroke="#000" stroke-width="2.2"/>
<text x="1690.00" y="891.82" font-size="24.2" text-anchor="end">0.4</text>
<line x1="1712.30" y1="1057.40" x2="1712.30" y2="1064.40" stroke="#000" stroke-width="2.2"/>
<line x1="1775.10" y1="1057.40" x2="1775.10" y2="1064.40" stroke="#000" stroke-width="2.2"/>
<line x1="1838.20" y1="1057.40" x2="1838.20" y2="1064.40" stroke="#000" stroke-width="2.2"/>
<line x1="1901.30" y1="1057.40" x2="1901.30" y2="1064.40" stroke="#000" stroke-width="2.2"/>
<line x1="1964.40" y1="1057.40" x2="1964.40" y2="1064.40" stroke="#000" stroke-width="2.2"/>
<text font-size="24.2" text-anchor="middle" transform="translate(1650.00 978.00) rotate(-90)">Abs 570 nm</text>
<text font-size="24.2" text-anchor="end" transform="translate(1749.50 1089.00) rotate(-45)">A375</text>
<text font-size="24.2" text-anchor="end" transform="translate(1812.50 1089.00) rotate(-45)">A375R</text>
<text font-size="24.2" text-anchor="end" transform="translate(1875.50 1089.00) rotate(-45)">A2058</text>
<text font-size="24.2" text-anchor="end" transform="translate(1938.50 1089.00) rotate(-45)">A2058R</text>
<polyline points="1744.70,946.20 1744.70,903.60 1808.30,903.60 1808.30,908.90" fill="none" stroke="#262626" stroke-width="1.3"/>
<text x="1766.00" y="908.30" font-size="23">***</text>
<polyline points="1870.70,940.60 1870.70,910.20 1934.50,910.20 1934.50,921.30" fill="none" stroke="#262626" stroke-width="1.3"/>
<text x="1886.00" y="914.30" font-size="23">***</text>
</g>
<g id="panelC">
<text x="205.80" y="717.00" font-size="24.2" text-anchor="middle">A375</text>
<line x1="96.40" y1="727.20" x2="325.50" y2="727.20" stroke="#000" stroke-width="2"/>
<text font-size="24.2" transform="translate(127.10 912.30) rotate(-90)">NC</text>
<text font-size="24.2" transform="translate(179.20 912.30) rotate(-90)">miR-205-5p</text>
<text font-size="24.2" transform="translate(231.30 912.30) rotate(-90)">NC+Vem. (5µM)</text>
<text font-size="24.2" transform="translate(283.40 912.30) rotate(-90)">miR-205-5p +</text>
<text font-size="24.2" transform="translate(309.40 912.30) rotate(-90)">Vem.( 5µM)</text>
<text x="1.30" y="953.60" font-size="24.2">89 kDa</text>
<line x1="76.50" y1="947.00" x2="101.50" y2="947.00" stroke="#000" stroke-width="2"/>
<text x="3.10" y="1040.00" font-size="24.2">55 kDa</text>
<line x1="78.20" y1="1033.80" x2="101.50" y2="1033.80" stroke="#000" stroke-width="2"/>
<text x="345.60" y="940.50" font-size="24.2">Cleaved</text>
<text x="351.60" y="969.20" font-size="24.2">-PARP</text>
<polygon points="322.4,950.4 334.6,944.1 334.6,956.7" fill="#000"/>
<line x1="333.60" y1="950.40" x2="339.50" y2="950.40" stroke="#000" stroke-width="2.4"/>
<text x="320.80" y="1040.00" font-size="24.2">β-Tubulin</text>
<text x="132.80" y="1080.60" font-size="24.2" text-anchor="middle">1</text>
<text x="185.40" y="1080.60" font-size="24.2" text-anchor="middle">2</text>
<text x="231.80" y="1080.60" font-size="24.2" text-anchor="middle">3</text>
<text x="284.40" y="1080.60" font-size="24.2" text-anchor="middle">4</text>
<clipPath id="c1"><rect x="101.20" y="917.60" width="211.10" height="65.90"/></clipPath>
<g clip-path="url(#c1)">
<rect x="101.20" y="917.60" width="211.10" height="65.90" fill="#bbc3d3"/>
<path d="M116.7,949.8 Q132.2,951.0 147.8,949.8" fill="none" stroke="#15161c" stroke-width="4.4" stroke-linecap="round" filter="url(#b1)" opacity="0.92"/>
<path d="M164.8,951.8 Q181.0,955.0 197.2,951.8" fill="none" stroke="#06060a" stroke-width="10.5" stroke-linecap="round" filter="url(#b1)"/>
<path d="M213.9,950.8 Q230.1,952.4 246.2,950.8" fill="none" stroke="#0a0a10" stroke-width="7.2" stroke-linecap="round" filter="url(#b1)"/>
<path d="M263.6,951.6 Q280.3,954.6 297.1,951.6" fill="none" stroke="#06060a" stroke-width="9.5" stroke-linecap="round" filter="url(#b1)"/>
</g>
<clipPath id="c2"><rect x="101.20" y="993.50" width="210.60" height="66.60"/></clipPath>
<g clip-path="url(#c2)">
<rect x="101.20" y="993.50" width="210.60" height="66.60" fill="#bbc3d3"/>
<path d="M121.0,1030.5 Q135.8,1032.9 150.5,1030.5" fill="none" stroke="#202229" stroke-width="11" stroke-linecap="round" filter="url(#b2)"/>
<path d="M170.2,1031.2 Q185.2,1033.6 200.2,1031.2" fill="none" stroke="#22242c" stroke-width="10.5" stroke-linecap="round" filter="url(#b2)"/>
<path d="M219.2,1033.6 Q233.5,1036.6 247.8,1033.6" fill="none" stroke="#101116" stroke-width="13.5" stroke-linecap="round" filter="url(#b2)"/>
<path d="M268.0,1031.5 Q284.0,1032.3 300.0,1026.0" fill="none" stroke="#2a2c36" stroke-width="8" stroke-linecap="round" filter="url(#b2)"/>
</g>
</g>
<g id="panelD">
<text x="820.00" y="721.30" font-size="24.2" text-anchor="middle">A375</text>
<line x1="670.00" y1="732.00" x2="950.30" y2="732.00" stroke="#000" stroke-width="2"/>
<text x="440.20" y="764.00" font-size="24.2">EV</text>
<text x="440.20" y="796.90" font-size="24.2">TNFAIP8-Myc</text>
<text x="440.20" y="829.70" font-size="24.2">Paclitaxel (5 µM)</text>
<text x="440.20" y="862.80" font-size="24.2">Vemurafenib (5µM)</text>
<text x="689.00" y="764.20" font-size="24.2" text-anchor="middle">+</text>
<text x="736.00" y="764.20" font-size="24.2" text-anchor="middle">+</text>
<text x="776.80" y="764.20" font-size="24.2" text-anchor="middle">+</text>
<text x="827.00" y="763.70" font-size="24.2" text-anchor="middle">-</text>
<text x="881.00" y="763.70" font-size="24.2" text-anchor="middle">-</text>
<text x="935.20" y="763.70" font-size="24.2" text-anchor="middle">-</text>
<text x="687.00" y="796.50" font-size="24.2" text-anchor="middle">-</text>
<text x="734.60" y="796.50" font-size="24.2" text-anchor="middle">-</text>
<text x="775.00" y="796.50" font-size="24.2" text-anchor="middle">-</text>
<text x="826.30" y="797.00" font-size="24.2" text-anchor="middle">+</text>
<text x="880.00" y="797.00" font-size="24.2" text-anchor="middle">+</text>
<text x="933.10" y="797.00" font-size="24.2" text-anchor="middle">+</text>
<text x="689.60" y="829.80" font-size="24.2" text-anchor="middle">-</text>
<text x="733.30" y="830.30" font-size="24.2" text-anchor="middle">+</text>
<text x="777.00" y="829.80" font-size="24.2" text-anchor="middle">-</text>
<text x="824.50" y="829.80" font-size="24.2" text-anchor="middle">-</text>
<text x="881.50" y="830.30" font-size="24.2" text-anchor="middle">+</text>
<text x="938.50" y="829.80" font-size="24.2" text-anchor="middle">-</text>
<text x="690.00" y="862.60" font-size="24.2" text-anchor="middle">-</text>
<text x="730.70" y="862.60" font-size="24.2" text-anchor="middle">-</text>
<text x="774.50" y="863.10" font-size="24.2" text-anchor="middle">+</text>
<text x="825.00" y="862.60" font-size="24.2" text-anchor="middle">-</text>
<text x="878.60" y="862.60" font-size="24.2" text-anchor="middle">-</text>
<text x="936.00" y="863.10" font-size="24.2" text-anchor="middle">+</text>
<text x="577.50" y="904.00" font-size="24.2">28 KDa</text>
<line x1="657.00" y1="898.20" x2="671.50" y2="898.20" stroke="#000" stroke-width="2"/>
<text x="576.00" y="969.10" font-size="24.2">89 kDa</text>
<line x1="650.00" y1="963.20" x2="671.50" y2="963.20" stroke="#000" stroke-width="2"/>
<text x="578.50" y="1029.00" font-size="24.2">41 kDa</text>
<line x1="654.00" y1="1022.80" x2="670.00" y2="1022.80" stroke="#000" stroke-width="2"/>
<text x="965.90" y="898.40" font-size="24.2">TNFAIP8</text>
<text x="963.30" y="927.00" font-size="24.2">-Myc</text>
<text x="972.40" y="968.70" font-size="24.2">Cleaved</text>
<text x="978.40" y="997.30" font-size="24.2">-PARP</text>
<polygon points="955.5,979.6 966.5,973.3 966.5,985.9" fill="#000"/>
<line x1="965.50" y1="979.60" x2="971.60" y2="979.60" stroke="#000" stroke-width="2.4"/>
<text x="958.80" y="1035.60" font-size="24.2">β-actin</text>
<text x="700.30" y="1078.60" font-size="24.2" text-anchor="middle">1</text>
<text x="740.60" y="1078.60" font-size="24.2" text-anchor="middle">2</text>
<text x="793.50" y="1078.60" font-size="24.2" text-anchor="middle">3</text>
<text x="838.80" y="1078.60" font-size="24.2" text-anchor="middle">4</text>
<text x="885.20" y="1078.60" font-size="24.2" text-anchor="middle">5</text>
<text x="932.00" y="1078.60" font-size="24.2" text-anchor="middle">6</text>
<clipPath id="c3"><rect x="671.00" y="866.10" width="281.30" height="63.80"/></clipPath>
<g clip-path="url(#c3)">
<rect x="671.00" y="866.10" width="281.30" height="63.80" fill="#acacac"/>
<path d="M813.0,899.6 Q827.4,902.0 841.8,899.6" fill="none" stroke="#0b0b0b" stroke-width="15" stroke-linecap="round" filter="url(#b1)"/>
<path d="M863.0,901.8 Q875.1,905.4 887.2,901.8" fill="none" stroke="#0b0b0b" stroke-width="20" stroke-linecap="round" filter="url(#b1)"/>
<path d="M905.2,905.2 Q920.1,906.8 935.0,905.2" fill="none" stroke="#0b0b0b" stroke-width="14.5" stroke-linecap="round" filter="url(#b1)"/>
</g>
<clipPath id="c4"><rect x="671.30" y="941.30" width="281.00" height="48.00"/></clipPath>
<g clip-path="url(#c4)">
<rect x="671.30" y="941.30" width="281.00" height="48.00" fill="#ababab"/>
<rect x="676.0" y="946.0" width="44.0" height="36.0" fill="#b3b3b3" filter="url(#b3)" opacity="0.6"/>
<rect x="770.0" y="946.0" width="84.0" height="40.0" fill="#b3b3b3" filter="url(#b3)" opacity="0.6"/>
<path d="M680.5,953.2 Q698.0,953.2 715.5,953.2" fill="none" stroke="#bdbdbd" stroke-width="3" stroke-linecap="round" filter="url(#b1)" opacity="0.7"/>
<path d="M680.8,956.2 Q698.0,956.2 715.2,956.2" fill="none" stroke="#9a9a9a" stroke-width="3.5" stroke-linecap="round" filter="url(#b1)" opacity="0.7"/>
<path d="M680.5,985.5 Q697.0,986.7 713.5,985.5" fill="none" stroke="#8a8a8a" stroke-width="5" stroke-linecap="round" filter="url(#b1)" opacity="0.9"/>
<path d="M728.0,988.8 Q745.5,988.8 763.0,988.8" fill="none" stroke="#8a8a8a" stroke-width="2" stroke-linecap="round" filter="url(#b1)" opacity="0.8"/>
<rect x="730.0" y="941.0" width="32.0" height="12.0" fill="#7c7c7c" filter="url(#b2)" opacity="0.75"/>
<rect x="729.0" y="962.0" width="35.0" height="16.0" fill="#878787" filter="url(#b3)" opacity="0.95"/>
<path d="M730.8,957.8 Q745.6,959.2 760.5,957.8" fill="none" stroke="#0c0c0c" stroke-width="9.5" stroke-linecap="round" filter="url(#b1)"/>
<path d="M775.5,961.0 Q790.5,961.8 805.5,961.0" fill="none" stroke="#747474" stroke-width="5" stroke-linecap="round" filter="url(#b1)"/>
<path d="M820.1,966.0 Q834.8,966.6 849.4,966.0" fill="none" stroke="#8a8a8a" stroke-width="4.2" stroke-linecap="round" filter="url(#b1)"/>
<rect x="861.0" y="941.0" width="37.5" height="50.0" fill="#9c9c9c" filter="url(#b1)" opacity="0.9"/>
<rect x="863.0" y="943.0" width="34.0" height="10.0" fill="#6c6c6c" filter="url(#b2)" opacity="0.8"/>
<rect x="864.0" y="953.0" width="32.0" height="14.0" fill="#a8a8a8" filter="url(#b3)" opacity="0.7"/>
<rect x="861.0" y="979.0" width="37.0" height="12.0" fill="#858585" filter="url(#b2)" opacity="0.9"/>
<path d="M863.7,973.8 Q879.5,975.0 895.4,973.8" fill="none" stroke="#1c1c1c" stroke-width="5.8" stroke-linecap="round" filter="url(#b1)"/>
<rect x="861.50" y="941.00" width="36.50" height="2.60" fill="#0a0a0a" filter="url(#b1)"/>
<rect x="907.0" y="945.0" width="33.0" height="42.0" fill="#b6b6b6" filter="url(#b2)" opacity="0.85"/>
<rect x="908.0" y="943.0" width="31.0" height="6.0" fill="#8a8a8a" filter="url(#b2)" opacity="0.7"/>
<rect x="907.50" y="941.00" width="33.00" height="2.20" fill="#0a0a0a" filter="url(#b1)"/>
<path d="M909.2,975.0 Q923.5,975.6 937.8,975.0" fill="none" stroke="#929292" stroke-width="5.5" stroke-linecap="round" filter="url(#b1)"/>
</g>
<clipPath id="c5"><rect x="669.50" y="1001.10" width="281.30" height="52.00"/></clipPath>
<g clip-path="url(#c5)">
<rect x="669.50" y="1001.10" width="281.30" height="52.00" fill="#a7a7a7"/>
<path d="M688.8,1020.4 Q705.1,1023.2 721.5,1020.4" fill="none" stroke="#3e3e3e" stroke-width="5.5" stroke-linecap="round" filter="url(#b1)" opacity="0.92"/>
<path d="M734.9,1022.3 Q751.1,1025.9 767.4,1022.3" fill="none" stroke="#464646" stroke-width="5.8" stroke-linecap="round" filter="url(#b1)" opacity="0.92"/>
<path d="M780.0,1021.6 Q795.1,1024.6 810.2,1021.6" fill="none" stroke="#444444" stroke-width="5.5" stroke-linecap="round" filter="url(#b1)" opacity="0.92"/>
<path d="M822.3,1022.8 Q838.0,1025.2 853.7,1022.8" fill="none" stroke="#555555" stroke-width="5.2" stroke-linecap="round" filter="url(#b1)" opacity="0.9"/>
<path d="M866.8,1025.5 Q880.1,1029.9 893.5,1025.5" fill="none" stroke="#363636" stroke-width="9" stroke-linecap="round" filter="url(#b1)" opacity="0.95"/>
<path d="M907.1,1025.2 Q921.4,1028.4 935.7,1025.2" fill="none" stroke="#444444" stroke-width="6.2" stroke-linecap="round" filter="url(#b1)" opacity="0.92"/>
<path d="M865.8,1044.6 Q882.5,1044.6 899.2,1044.6" fill="none" stroke="#929292" stroke-width="1.5" stroke-linecap="round" filter="url(#b1)" opacity="0.7"/>
<path d="M909.0,1043.8 Q925.0,1043.8 941.0,1043.8" fill="none" stroke="#8e8e8e" stroke-width="2" stroke-linecap="round" filter="url(#b1)" opacity="0.8"/>
</g>
</g>
<g id="panelE">
<text font-size="24.2" transform="translate(1234.60 836.50) rotate(-90)">A375</text>
<text font-size="24.2" transform="translate(1292.60 836.50) rotate(-90)">A375-R</text>
<text font-size="24.2" transform="translate(1350.70 836.50) rotate(-90)">A2058</text>
<text font-size="24.2" transform="translate(1408.50 836.50) rotate(-90)">A2058-R</text>
<text x="1105.30" y="872.00" font-size="24.2">22 kDa</text>
<line x1="1182.50" y1="865.00" x2="1195.50" y2="865.00" stroke="#000" stroke-width="2"/>
<text x="1100.20" y="973.10" font-size="24.2">16 kDa</text>
<line x1="1182.00" y1="966.80" x2="1195.00" y2="966.80" stroke="#000" stroke-width="2"/>
<text x="1100.20" y="1002.30" font-size="24.2">14 kDa</text>
<line x1="1182.00" y1="995.80" x2="1195.00" y2="995.80" stroke="#000" stroke-width="2"/>
<text x="1105.80" y="1078.60" font-size="24.2">41 kDa</text>
<line x1="1183.00" y1="1072.40" x2="1196.50" y2="1072.40" stroke="#000" stroke-width="2"/>
<text x="1436.80" y="879.00" font-size="24.2">TNFAIP8</text>
<text x="1445.70" y="1078.00" font-size="24.2">β-actin</text>
<text x="1475.60" y="975.70" font-size="24.2">LC3β</text>
<text x="1463.60" y="968.00" font-size="20.5">I</text>
<text x="1463.00" y="991.90" font-size="20.5">II</text>
<polyline points="1432.90,962.60 1443.60,962.60 1443.60,957.40 1456.80,957.40" fill="none" stroke="#000" stroke-width="1.3"/>
<polyline points="1432.90,972.40 1444.80,972.40 1444.80,982.30 1456.80,982.30" fill="none" stroke="#000" stroke-width="1.3"/>
<clipPath id="c6"><rect x="1195.10" y="844.80" width="234.50" height="62.70"/></clipPath>
<g clip-path="url(#c6)">
<rect x="1195.10" y="844.80" width="234.50" height="62.70" fill="#a5a5a5"/>
<rect x="1215.0" y="866.0" width="150.0" height="36.0" fill="#b0b0b0" filter="url(#b5)" opacity="0.8"/>
<rect x="1193.0" y="845.0" width="6.0" height="62.0" fill="#999" filter="url(#b3)" opacity="0.8"/>
<path d="M1220.5,862.3 Q1239.2,862.9 1258.0,862.3" fill="none" stroke="#343434" stroke-width="5" stroke-linecap="round" filter="url(#b1)" opacity="0.95"/>
<path d="M1239.5,862.6 Q1248.2,862.6 1257.0,862.6" fill="none" stroke="#383838" stroke-width="7" stroke-linecap="round" filter="url(#b2)" opacity="0.9"/>
<ellipse cx="1280.5" cy="864.0" rx="9.5" ry="8.5" fill="#333" filter="url(#b2)"/>
<ellipse cx="1305.0" cy="863.5" rx="9.5" ry="8.5" fill="#333" filter="url(#b2)"/>
<path d="M1278.0,864.0 Q1293.0,865.2 1308.0,864.0" fill="none" stroke="#363636" stroke-width="12" stroke-linecap="round" filter="url(#b2)"/>
<rect x="1276.0" y="876.0" width="36.0" height="8.0" fill="#9a9a9a" filter="url(#b3)" opacity="0.8"/>
<ellipse cx="1332.0" cy="861.3" rx="7.5" ry="7" fill="#3a3a3a" filter="url(#b2)"/>
<path d="M1328.3,861.0 Q1346.8,861.4 1365.2,861.0" fill="none" stroke="#4e4e4e" stroke-width="4.6" stroke-linecap="round" filter="url(#b2)"/>
<ellipse cx="1361.0" cy="860.8" rx="5" ry="3.6" fill="#484848" filter="url(#b2)" opacity="0.9"/>
<path d="M1383.2,857.6 Q1400.8,858.6 1418.2,857.6" fill="none" stroke="#404040" stroke-width="7.5" stroke-linecap="round" filter="url(#b2)"/>
<ellipse cx="1414.0" cy="857.0" rx="7.5" ry="6.5" fill="#3a3a3a" filter="url(#b2)"/>
<rect x="1382.0" y="863.0" width="42.0" height="22.0" fill="#7c7c7c" filter="url(#b3)" opacity="0.9"/>
<path d="M1385.2,887.3 Q1400.5,887.3 1415.8,887.3" fill="none" stroke="#414141" stroke-width="8.5" stroke-linecap="round" filter="url(#b2)"/>
<rect x="1386.0" y="893.0" width="38.0" height="9.0" fill="#858585" filter="url(#b3)" opacity="0.7"/>
<ellipse cx="1424.0" cy="888.0" rx="11" ry="24" fill="#3e3e3e" filter="url(#b5)"/>
<ellipse cx="1427.0" cy="893.0" rx="7" ry="13" fill="#3c3c3c" filter="url(#b3)" opacity="0.9"/>
<path d="M1276.0,890.8 Q1293.5,890.8 1311.0,890.8" fill="none" stroke="#8a8a8a" stroke-width="2" stroke-linecap="round" filter="url(#b1)" opacity="0.8"/>
<path d="M1332.2,889.5 Q1349.5,889.5 1366.8,889.5" fill="none" stroke="#7a7a7a" stroke-width="2.4" stroke-linecap="round" filter="url(#b1)" opacity="0.9"/>
<path d="M1356.3,889.2 Q1361.5,889.2 1366.7,889.2" fill="none" stroke="#666" stroke-width="2.6" stroke-linecap="round" filter="url(#b1)" opacity="0.8"/>
<path d="M1249.9,892.5 Q1254.5,892.5 1259.1,892.5" fill="none" stroke="#8e8e8e" stroke-width="1.8" stroke-linecap="round" filter="url(#b1)" opacity="0.7"/>
<path d="M1219.0,845.4 Q1226.0,845.4 1233.0,845.4" fill="none" stroke="#555" stroke-width="2" stroke-linecap="round" filter="url(#b1)"/>
<path d="M1274.2,845.4 Q1292.0,845.4 1309.8,845.4" fill="none" stroke="#505050" stroke-width="2.5" stroke-linecap="round" filter="url(#b1)"/>
<ellipse cx="1197.0" cy="905.8" rx="5" ry="4" fill="#555" filter="url(#b1)"/>
</g>
<clipPath id="c7"><rect x="1198.10" y="925.10" width="237.10" height="102.50"/></clipPath>
<g clip-path="url(#c7)">
<rect x="1198.10" y="925.10" width="237.10" height="102.50" fill="#adadad"/>
<ellipse cx="1221.5" cy="966.5" rx="6.5" ry="6" fill="#5e5e5e" filter="url(#b3)"/>
<ellipse cx="1245.0" cy="967.5" rx="7" ry="7" fill="#555" filter="url(#b3)"/>
<path d="M1219.0,967.0 Q1234.0,967.0 1249.0,967.0" fill="none" stroke="#787878" stroke-width="6" stroke-linecap="round" filter="url(#b3)"/>
<rect x="1236.0" y="973.0" width="16.0" height="10.0" fill="#999" filter="url(#b3)" opacity="0.8"/>
<rect x="1217.0" y="973.0" width="36.0" height="8.0" fill="#a0a0a0" filter="url(#b3)" opacity="0.7"/>
<path d="M1272.0,968.0 Q1286.2,968.0 1300.5,968.0" fill="none" stroke="#525252" stroke-width="10" stroke-linecap="round" filter="url(#b3)"/>
<path d="M1271.5,983.2 Q1286.0,984.4 1300.5,983.2" fill="none" stroke="#363636" stroke-width="11" stroke-linecap="round" filter="url(#b3)"/>
<rect x="1270.0" y="968.0" width="34.0" height="16.0" fill="#666" filter="url(#b3)" opacity="0.85"/>
<ellipse cx="1327.0" cy="967.0" rx="8" ry="7" fill="#555" filter="url(#b3)" opacity="0.9"/>
<ellipse cx="1356.0" cy="967.0" rx="7" ry="7" fill="#585858" filter="url(#b3)" opacity="0.9"/>
<path d="M1325.5,967.2 Q1341.5,967.2 1357.5,967.2" fill="none" stroke="#555" stroke-width="9" stroke-linecap="round" filter="url(#b3)"/>
<rect x="1324.0" y="973.0" width="36.0" height="11.0" fill="#8e8e8e" filter="url(#b3)" opacity="0.8"/>
<path d="M1384.5,968.0 Q1398.8,969.0 1413.0,968.0" fill="none" stroke="#2a2a2a" stroke-width="21" stroke-linecap="round" filter="url(#b3)" opacity="0.97"/>
<path d="M1384.0,979.0 Q1399.5,980.6 1415.0,979.0" fill="none" stroke="#3a3a3a" stroke-width="14" stroke-linecap="round" filter="url(#b3)"/>
<ellipse cx="1415.0" cy="963.0" rx="7" ry="8" fill="#2c2c2c" filter="url(#b3)" opacity="0.8"/>
</g>
<clipPath id="c8"><rect x="1196.40" y="1039.10" width="243.00" height="68.10"/></clipPath>
<g clip-path="url(#c8)">
<rect x="1196.40" y="1039.10" width="243.00" height="68.10" fill="#adadad"/>
<path d="M1212.3,1069.1 Q1233.3,1072.4 1254.3,1073.3" fill="none" stroke="#2e2e2e" stroke-width="10.2" stroke-linecap="round" filter="url(#b1)"/>
<path d="M1271.6,1075.0 Q1291.5,1076.8 1311.3,1075.0" fill="none" stroke="#2e2e2e" stroke-width="11.8" stroke-linecap="round" filter="url(#b1)"/>
<path d="M1329.0,1076.4 Q1348.9,1078.2 1368.8,1076.4" fill="none" stroke="#2e2e2e" stroke-width="12.5" stroke-linecap="round" filter="url(#b1)"/>
<path d="M1386.1,1075.7 Q1406.0,1077.3 1425.9,1075.7" fill="none" stroke="#2e2e2e" stroke-width="11" stroke-linecap="round" filter="url(#b1)"/>
</g>
</g>
</svg>
</body></html>
